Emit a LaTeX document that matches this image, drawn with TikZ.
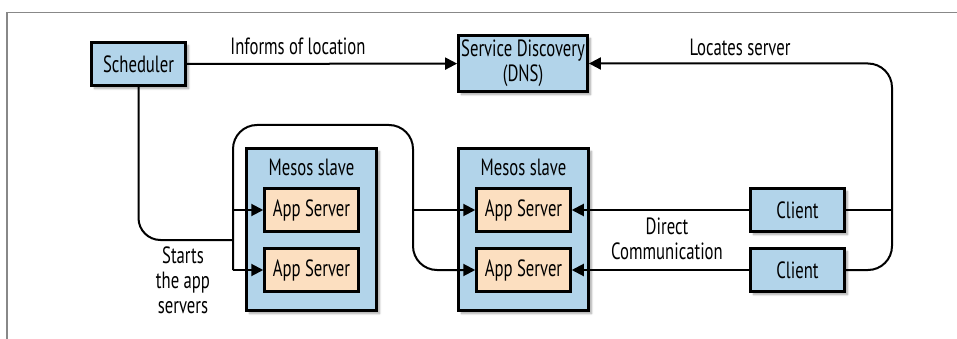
\documentclass[tikz,border=0pt]{standalone}
\usepackage{fontspec}
\setmainfont[FakeStretch=0.71]{PT Sans}
\usetikzlibrary{arrows.meta,shadows.blur,calc}
\definecolor{boxblue}{HTML}{B2D4EA}
\definecolor{peach}{HTML}{FCDFC0}
\definecolor{framegray}{HTML}{888888}
\tikzset{
  every node/.style={font=\fontsize{23.5}{25}\selectfont},
  bluebox/.style={draw=black, line width=2.8pt, fill=boxblue, inner sep=0pt,
     minimum width=94pt, minimum height=43pt,
     blur shadow={shadow xshift=3pt, shadow yshift=-3pt, shadow blur steps=6, shadow opacity=35}},
  appbox/.style={draw=black, line width=2.5pt, fill=peach, inner sep=0pt,
     minimum width=94pt, minimum height=43pt},
  slavebox/.style={draw=black, line width=2.8pt, fill=boxblue, inner sep=0pt,
     minimum width=130pt, minimum height=162pt,
     blur shadow={shadow xshift=3pt, shadow yshift=-3pt, shadow blur steps=6, shadow opacity=35}},
  conn/.style={draw=black, line width=2pt},
  arr/.style={conn, -{Triangle[length=12pt,width=12pt]}},
  lbl/.style={inner sep=0pt, align=center},
}
\begin{document}
\begin{tikzpicture}[x=1pt,y=-1pt]
\useasboundingbox (0,0) rectangle (957,339);
\draw[framegray, line width=1.4pt] (7,339) -- (7,12.5) -- (957,12.5);

\node[bluebox] (sched) at (138.5,64) {Scheduler};
\node[bluebox, minimum width=129pt, minimum height=56pt, align=center] (dns) at (523,63.5) {Service Discovery\\(DNS)};
\node[slavebox] (s1) at (311.5,229.5) {};
\node[slavebox] (s2) at (523.5,229.5) {};
\node[lbl] (s1t) at (311.5,167) {Mesos slave};
\node[lbl] (s2t) at (523.5,167) {Mesos slave};
\node[appbox] (s1a1) at (311.5,210) {App Server};
\node[appbox] (s1a2) at (311.5,270) {App Server};
\node[appbox] (s2a1) at (523.5,210) {App Server};
\node[appbox] (s2a2) at (523.5,270) {App Server};
\node[bluebox] (cl1) at (797.5,210) {Client};
\node[bluebox] (cl2) at (797.5,270) {Client};

\coordinate (jx) at (233,240);
\coordinate (ltop) at (233,125);
\coordinate (rtop) at (413,125);
\coordinate (rx) at (892,63.5);

% Informs of location
\draw[arr] (sched) -- (dns);
\node[lbl] (inf) at (298,46) {Informs of location};

% Locates server
\draw[arr, rounded corners=24pt] (cl2.east) -| (rx) -- (dns.east);
\draw[conn] (cl1.east) -- (cl1.east -| rx);
\node[lbl] (loc) at (740,47) {Locates server};

% Scheduler starts app servers
\draw[conn, rounded corners=22pt] (sched.south) |- (jx);
\draw[arr] (jx |- s1a2.west) -- (s1a2.west);
\draw[arr] (jx |- s1a1.west) -- (s1a1.west);
\draw[arr, rounded corners=24pt] (jx |- s1a2.west) -- (ltop) -- (rtop) -- (rtop |- s2a2.west) -- (s2a2.west);
\draw[arr] (rtop |- s2a1.west) -- (s2a1.west);
\node[lbl] (starts) at (183,280) {Starts\\the app\\servers};

% Direct communication
\draw[arr] (cl1) -- (s2a1);
\draw[arr] (cl2) -- (s2a2);
\node[lbl] (direct) at (667,239) {Direct\\Communication};
\end{tikzpicture}
\end{document}
